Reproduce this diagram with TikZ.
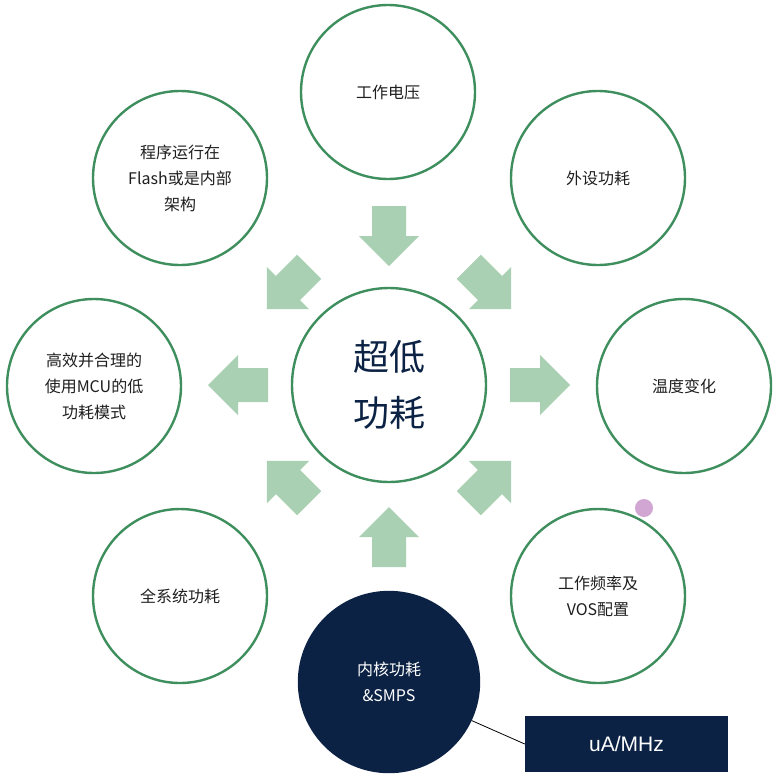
\documentclass[tikz,border=0pt]{standalone}
\usepackage{fontspec}
\setmainfont{Liberation Sans}
\newfontfamily\cjk{Noto Sans CJK SC}
\definecolor{ring}{HTML}{3E8E5E}
\definecolor{arr}{HTML}{A9D0B2}
\definecolor{navy}{HTML}{0B2244}
\definecolor{txt}{HTML}{1E1E1E}
\tikzset{
  ringc/.style={circle,draw=ring,line width=2.4pt,minimum size=174pt,inner sep=0,align=center,font=\cjk\fontsize{16}{26}\selectfont,text=txt},
  blk/.pic={\fill[arr] (-30,-17) -- (0,-17) -- (0,-30) -- (30,0) -- (0,30) -- (0,17) -- (-30,17) -- cycle;}
}
\begin{document}
\begin{tikzpicture}[x=1pt,y=-1pt]
\useasboundingbox (0,0) rectangle (778,777);
\node[ringc,minimum size=194pt,font=\cjk\fontsize{36}{56}\selectfont,text=navy] (c) at (389,385) {超低\\功耗};
\node[ringc] (n1) at (388,92) {工作电压};
\node[ringc] (n2) at (598,178) {外设功耗};
\node[ringc] (n3) at (684,386) {温度变化};
\node[ringc] (n4) at (598,596) {工作频率及\\VOS配置};
\node[ringc,fill=navy,draw=navy,text=white,minimum size=180pt] (n5) at (389,682) {内核功耗\\\&SMPS};
\node[ringc] (n6) at (180,596) {全系统功耗};
\node[ringc] (n7) at (94,386) {高效并合理的\\使用MCU的低\\功耗模式};
\node[ringc] (n8) at (180,178) {程序运行在\\Flash或是内部\\架构};
\pic[rotate=-90] at (389,236) {blk};
\pic[rotate=-45] at (490,288) {blk};
\pic[rotate=0] at (540,385) {blk};
\pic[rotate=45] at (490,482) {blk};
\pic[rotate=90] at (389,537) {blk};
\pic[rotate=135] at (288,482) {blk};
\pic[rotate=180] at (238,385) {blk};
\pic[rotate=-135] at (288,288) {blk};
\node[fill=navy,text=white,minimum width=203pt,minimum height=56pt,inner sep=0,font=\fontsize{21}{24}\selectfont] (r) at (626.5,744) {uA/MHz};
\draw[line width=0.8pt] (n5.-25) -- (r.west);
\node[circle,fill=violet!35,minimum size=18pt,inner sep=0] (dot) at (644,508) {};
\end{tikzpicture}
\end{document}
